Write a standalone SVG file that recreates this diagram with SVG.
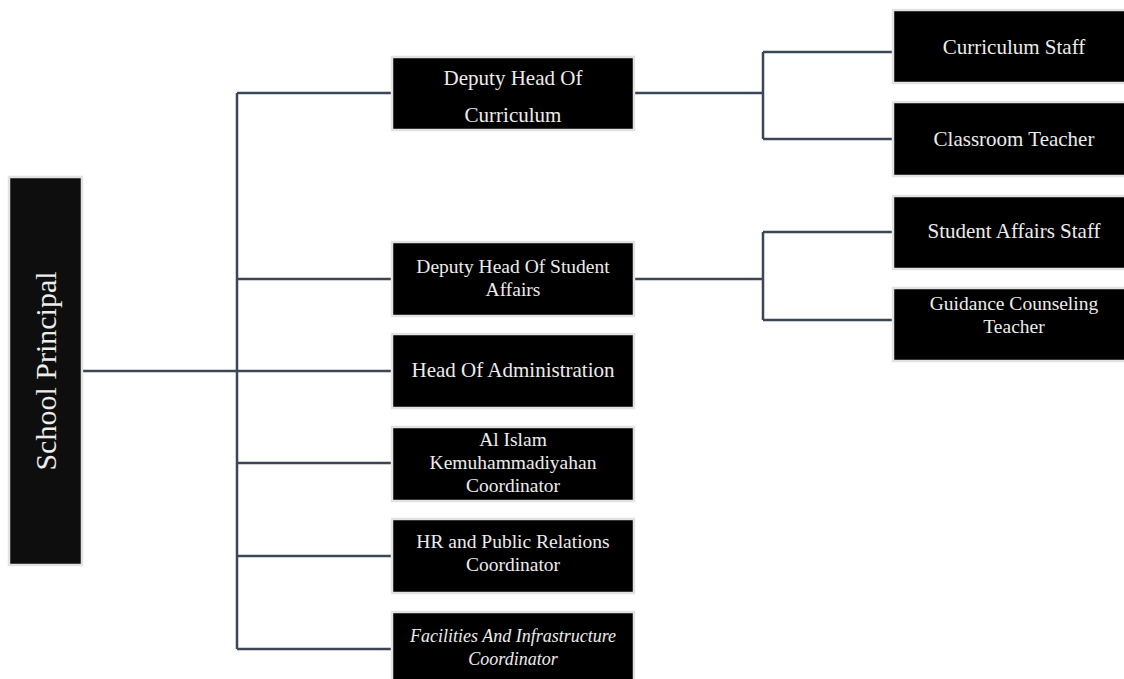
<svg xmlns="http://www.w3.org/2000/svg" width="1124" height="679" viewBox="0 0 1124 679">
<style>
.box{fill:#000;stroke:#e2e2e2;stroke-width:2.5}
.t{fill:#ececec;font-family:"Liberation Serif",serif;font-size:21px;text-anchor:middle}
.m{font-size:19.5px}
.i{font-style:italic;font-size:18px}
.c{fill:none;stroke:#3b4657;stroke-width:2.5}
</style>
<rect width="1124" height="679" fill="#fff"/>
<g id="connectors">
<path class="c" d="M82 371H237M237 93V649M237 93H392M237 279H392M237 371H392M237 463H392M237 556H392M237 649H392"/>
<path class="c" d="M634 93H763M763 52V139M763 52H893M763 139H893"/>
<path class="c" d="M634 279H763M763 232V320M763 232H893M763 320H893"/>
</g>
<g id="principal">
<rect x="9" y="177" width="73" height="388" fill="#0e0e0e" stroke="#e2e2e2" stroke-width="2.5"/>
<text class="t" style="font-size:30px" transform="translate(56 371) rotate(-90)" x="0" y="0">School Principal</text>
</g>
<g id="curriculum">
<rect class="box" x="392" y="57" width="242" height="73"/>
<text class="t" x="513" y="85">Deputy Head Of</text>
<text class="t" x="513" y="122">Curriculum</text>
</g>
<g id="student-affairs">
<rect class="box" x="392" y="242" width="242" height="74"/>
<text class="t m" x="513" y="273">Deputy Head Of Student</text>
<text class="t m" x="513" y="296">Affairs</text>
</g>
<g id="administration">
<rect class="box" x="392" y="334" width="242" height="74"/>
<text class="t" x="513" y="377">Head Of Administration</text>
</g>
<g id="al-islam">
<rect class="box" x="392" y="427" width="242" height="74"/>
<text class="t m" x="513" y="446">Al Islam</text>
<text class="t m" x="513" y="469">Kemuhammadiyahan</text>
<text class="t m" x="513" y="492">Coordinator</text>
</g>
<g id="hr">
<rect class="box" x="392" y="519" width="242" height="74"/>
<text class="t m" x="513" y="548">HR and Public Relations</text>
<text class="t m" x="513" y="571">Coordinator</text>
</g>
<g id="facilities">
<rect class="box" x="392" y="612" width="242" height="74"/>
<text class="t i" x="513" y="642">Facilities And Infrastructure</text>
<text class="t i" x="513" y="665">Coordinator</text>
</g>
<g id="curriculum-staff">
<rect class="box" x="893" y="10" width="242" height="73"/>
<text class="t" x="1014" y="54">Curriculum Staff</text>
</g>
<g id="classroom-teacher">
<rect class="box" x="893" y="102" width="242" height="74"/>
<text class="t" x="1014" y="146">Classroom Teacher</text>
</g>
<g id="student-affairs-staff">
<rect class="box" x="893" y="196" width="242" height="73"/>
<text class="t" x="1014" y="238">Student Affairs Staff</text>
</g>
<g id="guidance">
<rect class="box" x="893" y="288" width="242" height="73"/>
<text class="t m" x="1014" y="310">Guidance Counseling</text>
<text class="t m" x="1014" y="333">Teacher</text>
</g>
</svg>
